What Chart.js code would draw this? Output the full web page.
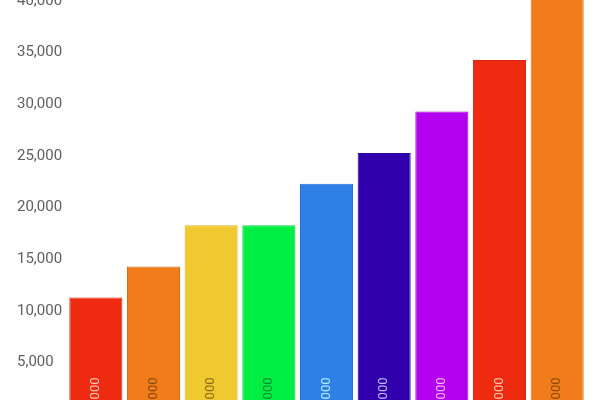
<!DOCTYPE html>
<html>
<head>
<meta charset="utf-8">
<script src="https://cdn.jsdelivr.net/npm/chart.js@4/dist/chart.umd.min.js"></script>
<style>
  html, body { margin: 0; padding: 0; background: #ffffff; overflow: hidden; width: 600px; height: 400px; }
  #wrap { position: relative; width: 600px; height: 400px; overflow: hidden; }
  #c { position: absolute; left: 0; top: -21px; }
</style>
</head>
<body>
<div id="wrap"><canvas id="c" width="600" height="460"></canvas></div>
<script>
const categories = ['A', 'B', 'C', 'D', 'E', 'F', 'G', 'H', 'I'];
const values = [11000, 14000, 18000, 18000, 22000, 25000, 29000, 34000, 40000];
const barColors = ['#ee2a10', '#f07d1a', '#efc92f', '#00ee44', '#2f7fe6', '#3000ad', '#b300ef', '#ee2a10', '#f07d1a'];
const barBorders = ['#d8260e', '#d86e14', '#d8b428', '#00d43c', '#2a72d0', '#28009a', '#a000d6', '#d8260e', '#d86e14'];
const labelColors = ['#ffc8b8', '#8a4810', '#8a6a18', '#0a8a2a', '#b0f0ff', '#c8b8ff', '#ffb8ff', '#ffc8b0', '#8a4810'];
const yTicks = { min: 0, max: 40000, step: 5000 };

const barLabels = {
  id: 'barLabels',
  afterDatasetsDraw(chart) {
    const ctx = chart.ctx;
    const meta = chart.getDatasetMeta(0);
    ctx.save();
    ctx.font = '13px Roboto';
    ctx.textAlign = 'right';
    ctx.textBaseline = 'middle';
    meta.data.forEach((bar, i) => {
      const text = values[i].toLocaleString('en-US');
      ctx.save();
      ctx.translate(bar.x, bar.base - 33.5);
      ctx.rotate(-Math.PI / 2);
      ctx.fillStyle = labelColors[i];
      ctx.fillText(text, 0, 0);
      ctx.restore();
    });
    ctx.restore();
  }
};

new Chart(document.getElementById('c'), {
  type: 'bar',
  data: {
    labels: categories,
    datasets: [{
      data: values,
      backgroundColor: barColors,
      borderColor: barBorders,
      borderWidth: 1,
      categoryPercentage: 1,
      barPercentage: 0.92
    }]
  },
  options: {
    responsive: false,
    animation: false,
    devicePixelRatio: 1,
    layout: { padding: { left: 17, right: 14, top: 19, bottom: 28 } },
    plugins: { legend: { display: false }, tooltip: { enabled: false } },
    scales: {
      x: { display: false },
      y: {
        min: yTicks.min,
        max: yTicks.max,
        border: { display: false },
        grid: { display: false, drawTicks: false },
        ticks: {
          stepSize: yTicks.step,
          crossAlign: 'far',
          color: '#5f5f5f',
          font: { family: 'Roboto', size: 15, lineHeight: '6px' },
          callback: (v) => ['', Number(v).toLocaleString('en-US')]
        },
        afterFit(scale) { scale.width = 50; }
      }
    }
  },
  plugins: [barLabels]
});
</script>
</body>
</html>
